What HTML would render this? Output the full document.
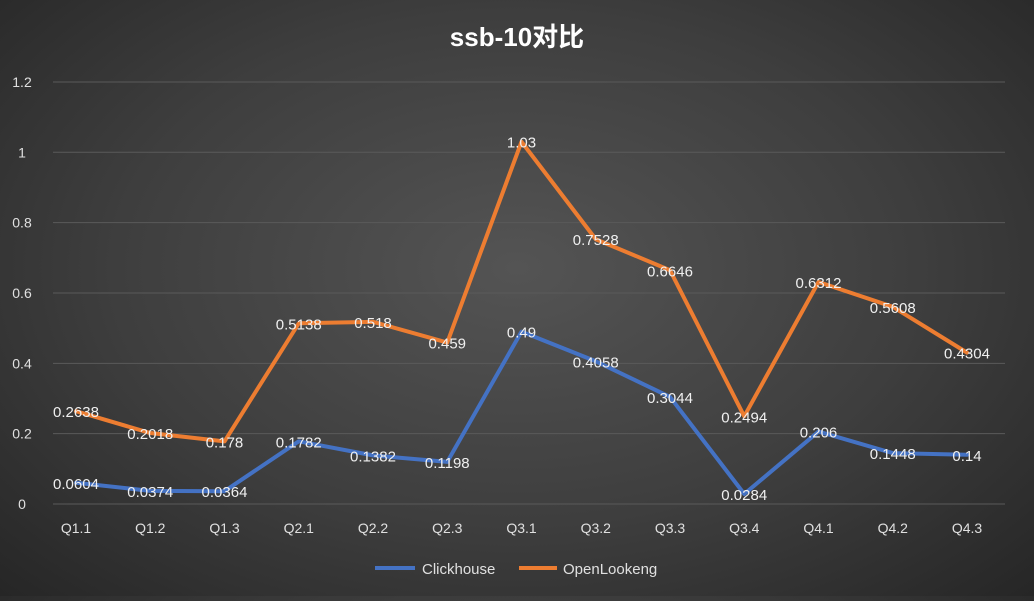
<!DOCTYPE html>
<html><head><meta charset="utf-8"><style>
body{margin:0;width:1034px;height:596px;overflow:hidden;background:radial-gradient(ellipse at 50% 45%,#545454 0%,#3e3e3e 55%,#262626 100%);font-family:"Liberation Sans","Noto Sans CJK SC",sans-serif}
text{font-family:"Liberation Sans","Noto Sans CJK SC",sans-serif}
</style></head><body>
<svg id="c" width="1034" height="596">
<text x="517" y="46" text-anchor="middle" fill="#fff" font-size="26" font-weight="bold">ssb-10对比</text>
<g id="grid"></g><g id="lines"></g><g id="labels"></g>
<g>
<line x1="375" y1="568" x2="415" y2="568" stroke="#4472C4" stroke-width="4"/>
<text x="422" y="574" fill="#e0e0e0" font-size="15">Clickhouse</text>
<line x1="519" y1="568" x2="557" y2="568" stroke="#ED7D31" stroke-width="4"/>
<text x="563" y="574" fill="#e0e0e0" font-size="15">OpenLookeng</text>
</g>
</svg>
<script>
const categories=["Q1.1","Q1.2","Q1.3","Q2.1","Q2.2","Q2.3","Q3.1","Q3.2","Q3.3","Q3.4","Q4.1","Q4.2","Q4.3"];
const clickhouse=[0.0604,0.0374,0.0364,0.1782,0.1382,0.1198,0.49,0.4058,0.3044,0.0284,0.206,0.1448,0.14];
const openlookeng=[0.2638,0.2018,0.178,0.5138,0.518,0.459,1.03,0.7528,0.6646,0.2494,0.6312,0.5608,0.4304];
const yTicks=[0,0.2,0.4,0.6,0.8,1,1.2];
const NS="http://www.w3.org/2000/svg";
const X=i=>76+i*74.25, Y=v=>504-v*351.7;
function el(t,a,p){const e=document.createElementNS(NS,t);for(const k in a)e.setAttribute(k,a[k]);document.getElementById(p).appendChild(e);return e;}
yTicks.forEach(v=>{
 const l=el("line",{x1:53,x2:1005,y1:Y(v),y2:Y(v),stroke:"#5a5a5a","stroke-width":1},"grid");
 
 
 const t=el("text",{x:22,y:Y(v)+5,"text-anchor":"middle",fill:"#e0e0e0","font-size":14},"grid");t.textContent=String(v);
 
 
});
categories.forEach((c,i)=>{
 const t=el("text",{x:X(i),y:533,"text-anchor":"middle",fill:"#e0e0e0","font-size":14},"grid");t.textContent=c;
 
 
});
[[clickhouse,"#4472C4","clickhouse"],[openlookeng,"#ED7D31","openlookeng"]].forEach(([d,col,n])=>{
 const p=el("polyline",{points:d.map((v,i)=>X(i)+","+Y(v)).join(" "),fill:"none",stroke:col,"stroke-width":4,"stroke-linejoin":"round","stroke-linecap":"round"},"lines");
 
 
 d.forEach((v,i)=>{
  const t=el("text",{x:X(i),y:Y(v)+6,"text-anchor":"middle",fill:"#f0f0f0","font-size":15},"labels");t.textContent=String(v);
  
  
 });
});
</script>
</body></html>
